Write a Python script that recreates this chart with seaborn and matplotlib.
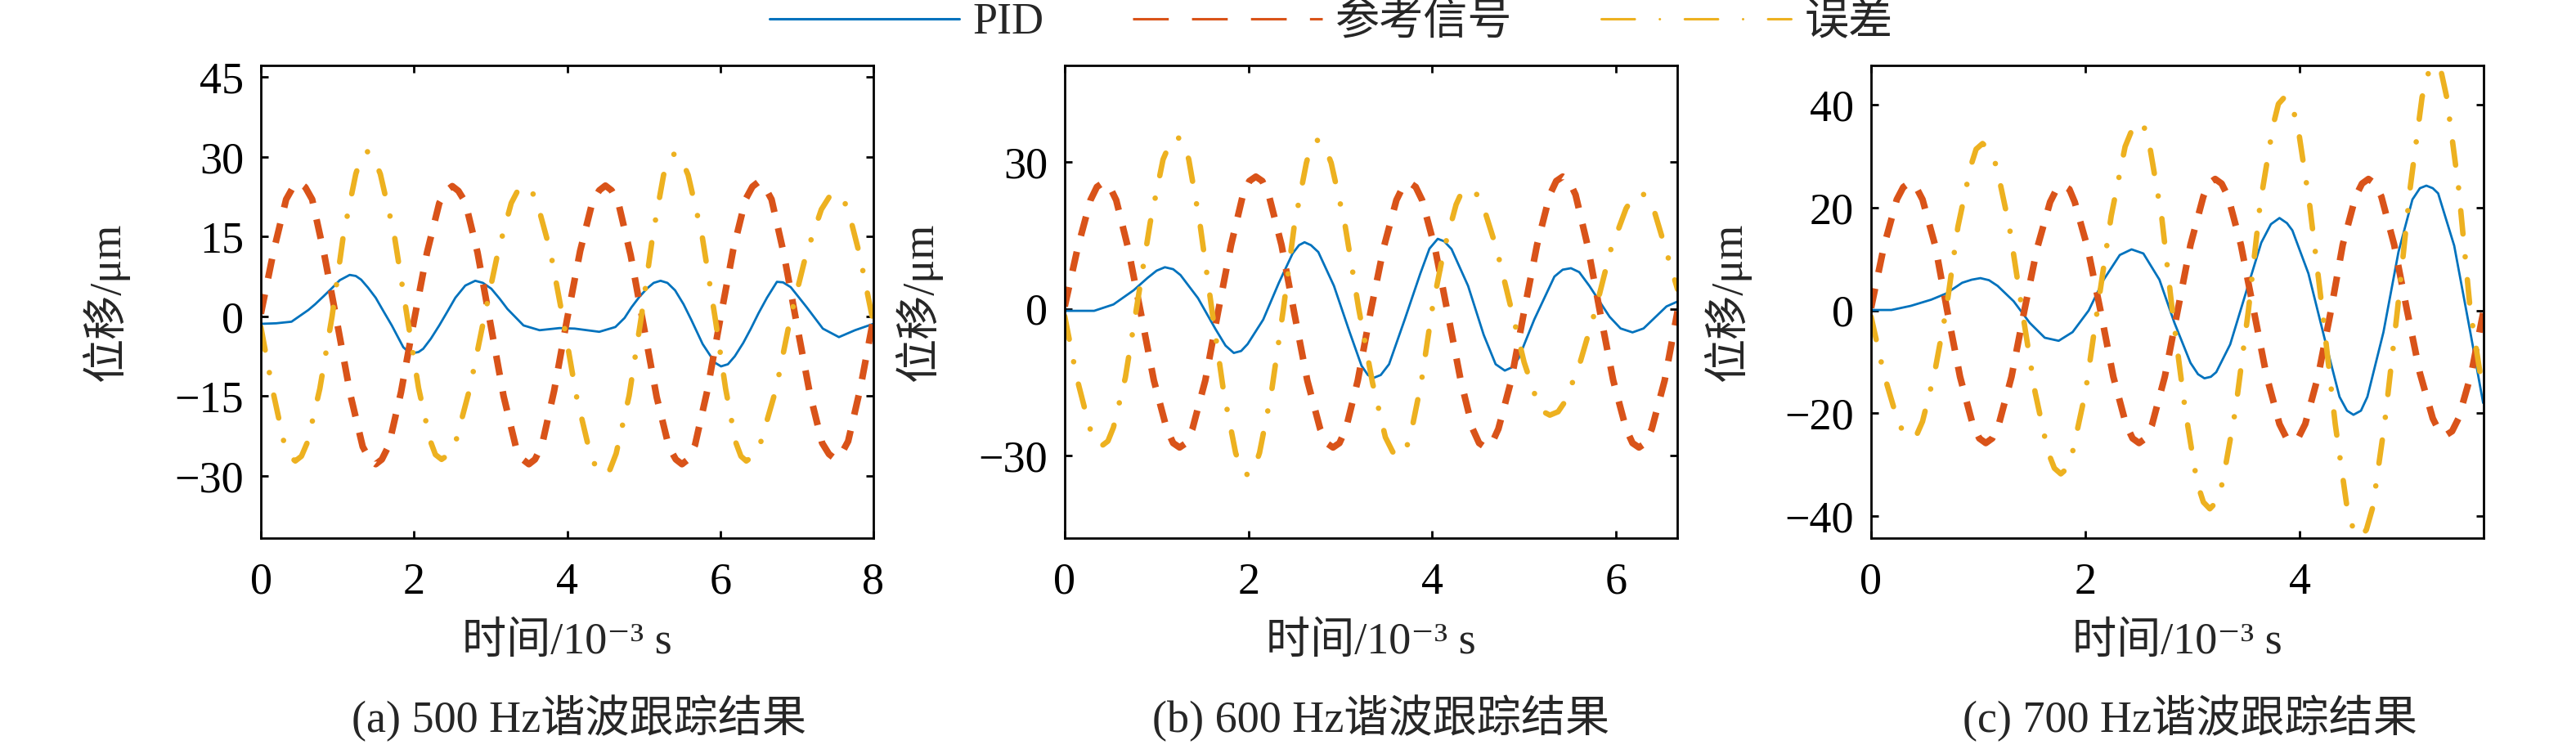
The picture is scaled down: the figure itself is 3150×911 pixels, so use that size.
#!/usr/bin/env python3
import pandas as pd
import seaborn as sns
import matplotlib.pyplot as plt
from matplotlib.lines import Line2D

# (time in 1e-3 s, displacement in um)
# --- (a) 500 Hz ---
A_PID = [(0, -1.4), (0.2, -1.3), (0.4, -1.0), (0.5, 0.0), (0.62, 1.2), (0.71, 2.3), (0.82, 3.8),
         (0.92, 5.2), (1.03, 6.8), (1.16, 7.8), (1.24, 7.6), (1.31, 6.9), (1.4, 5.4), (1.5, 3.5),
         (1.6, 1.0), (1.71, -1.7), (1.86, -5.8), (1.93, -6.7), (1.99, -6.9), (2.06, -6.7), (2.12, -6.1),
         (2.22, -4.2), (2.33, -1.7), (2.44, 1.0), (2.54, 3.5), (2.67, 5.8), (2.8, 6.7), (2.9, 6.3),
         (3.01, 5.2), (3.12, 3.3), (3.22, 1.4), (3.43, -1.7), (3.64, -2.6), (3.9, -2.2), (4.1, -2.3),
         (4.42, -2.9), (4.63, -2.0), (4.75, -0.3), (4.84, 1.7), (4.94, 3.6), (5.04, 5.2), (5.13, 6.3),
         (5.22, 6.7), (5.31, 6.3), (5.41, 4.9), (5.52, 2.3), (5.62, -0.6), (5.77, -5.2), (5.93, -8.7),
         (6.01, -9.4), (6.1, -9.0), (6.19, -7.5), (6.3, -5.0), (6.4, -2.3), (6.5, 0.6), (6.61, 3.5),
         (6.74, 6.5), (6.82, 6.4), (6.92, 5.5), (7.02, 3.7), (7.13, 1.7), (7.34, -2.3), (7.55, -3.9),
         (7.76, -2.6), (8.0, -1.4)]
A_REF = [(0, 0.5), (0.17, 12.5), (0.33, 22.0), (0.42, 24.3), (0.5, 25.2), (0.58, 24.3), (0.67, 22.0),
         (0.83, 11.5), (1.0, -1.5), (1.17, -14.8), (1.33, -24.5), (1.42, -26.9), (1.5, -27.8),
         (1.58, -26.9), (1.67, -24.3), (1.83, -14.3), (2.0, -0.8), (2.17, 12.0), (2.33, 21.3),
         (2.42, 23.6), (2.5, 24.5), (2.58, 23.6), (2.67, 21.5), (2.83, 12.0), (3.0, -1.5),
         (3.17, -15.0), (3.33, -24.5), (3.42, -26.9), (3.5, -27.8), (3.58, -26.9), (3.67, -24.3),
         (3.83, -14.0), (4.0, -0.5), (4.17, 12.3), (4.33, 21.5), (4.42, 23.7), (4.5, 24.6),
         (4.58, 23.7), (4.67, 21.3), (4.83, 11.5), (5.0, -1.8), (5.17, -15.2), (5.33, -24.6),
         (5.42, -26.9), (5.5, -27.8), (5.58, -26.9), (5.67, -24.2), (5.83, -14.0), (6.0, -0.5),
         (6.17, 12.6), (6.33, 22.0), (6.42, 24.4), (6.5, 25.3), (6.58, 24.4), (6.67, 22.0),
         (6.83, 11.8), (7.0, -1.5), (7.17, -14.5), (7.33, -23.8), (7.42, -25.9), (7.5, -26.8),
         (7.58, -25.9), (7.67, -23.5), (7.83, -13.5), (8.0, -0.5)]
A_ERR = [(0, -2.0), (0.15, -13.6), (0.30, -23.6), (0.37, -26.3), (0.45, -27.2), (0.53, -26.3),
         (0.61, -23.6), (0.77, -13.6), (0.93, 0), (1.08, 15.5), (1.24, 26.8), (1.31, 29.9),
         (1.39, 31.0), (1.47, 29.9), (1.56, 26.8), (1.74, 15.5), (1.91, 0), (2.06, -13.5),
         (2.21, -23.3), (2.28, -26.0), (2.36, -26.9), (2.45, -26.0), (2.55, -23.3), (2.73, -13.5),
         (2.92, 0), (3.10, 12.3), (3.27, 21.3), (3.36, 23.8), (3.45, 24.6), (3.53, 23.8),
         (3.61, 21.3), (3.78, 12.3), (3.94, 0), (4.12, -14.9), (4.30, -25.8), (4.39, -28.8),
         (4.48, -29.8), (4.56, -28.8), (4.64, -25.8), (4.81, -14.9), (4.97, 0), (5.12, 15.4),
         (5.26, 26.6), (5.34, 29.7), (5.41, 30.7), (5.49, 29.7), (5.58, 26.6), (5.76, 15.4),
         (5.93, 0), (6.07, -13.6), (6.20, -23.6), (6.27, -26.3), (6.34, -27.2), (6.43, -26.3),
         (6.53, -23.6), (6.73, -13.6), (6.92, 0), (7.12, 11.6), (7.32, 20.1), (7.42, 22.4),
         (7.52, 23.2), (7.59, 22.4), (7.67, 20.1), (7.82, 11.6), (8.0, -1.2)]

# --- (b) 600 Hz ---
B_PID = [(0, -0.4), (0.32, -0.4), (0.53, 0.9), (0.75, 3.8), (0.9, 6.3), (1.0, 7.8), (1.09, 8.5),
         (1.18, 8.1), (1.26, 6.9), (1.45, 2.2), (1.64, -4.1), (1.75, -7.5), (1.84, -9.0), (1.92, -8.6),
         (1.99, -7.2), (2.16, -2.2), (2.33, 5.3), (2.48, 11.3), (2.55, 13.0), (2.61, 13.6), (2.68, 13.0),
         (2.76, 11.6), (2.93, 4.7), (3.10, -4.7), (3.23, -11.6), (3.30, -13.5), (3.36, -14.1),
         (3.44, -13.5), (3.53, -11.3), (3.70, -2.2), (3.87, 7.2), (3.97, 12.3), (4.06, 14.3),
         (4.13, 13.8), (4.21, 12.2), (4.39, 4.7), (4.56, -5.3), (4.69, -11.3), (4.79, -12.6),
         (4.86, -12.0), (4.94, -10.1), (5.11, -2.2), (5.33, 6.6), (5.42, 8.0), (5.51, 8.3), (5.60, 7.5),
         (5.71, 4.7), (5.93, -1.6), (6.05, -4.0), (6.18, -4.8), (6.30, -4.0), (6.40, -2.2), (6.55, 0.5),
         (6.67, 1.5)]
B_REF = [(0, 0.5), (0.14, 12.4), (0.28, 22.2), (0.35, 24.9), (0.42, 25.8), (0.49, 24.9), (0.56, 22.2),
         (0.69, 12.4), (0.83, -1.0), (0.97, -14.6), (1.11, -24.5), (1.18, -27.4), (1.25, -28.3),
         (1.32, -27.4), (1.39, -24.5), (1.53, -14.6), (1.67, -0.5), (1.81, 13.0), (1.94, 23.3),
         (2.01, 26.1), (2.08, 27.0), (2.15, 26.1), (2.22, 23.3), (2.36, 13.0), (2.5, -1.0),
         (2.64, -14.6), (2.78, -24.5), (2.85, -27.4), (2.92, -28.3), (2.99, -27.4), (3.06, -24.5),
         (3.19, -14.6), (3.33, -0.5), (3.47, 12.4), (3.61, 22.2), (3.68, 24.9), (3.75, 25.8),
         (3.82, 24.9), (3.89, 22.2), (4.03, 12.4), (4.17, -1.0), (4.31, -14.6), (4.44, -24.5),
         (4.51, -27.4), (4.58, -28.3), (4.65, -27.4), (4.72, -24.5), (4.86, -14.6), (5.0, -0.5),
         (5.14, 13.0), (5.28, 23.3), (5.35, 26.1), (5.42, 27.0), (5.49, 26.1), (5.56, 23.3),
         (5.69, 13.0), (5.83, -1.0), (5.97, -14.6), (6.11, -24.5), (6.18, -27.4), (6.25, -28.3),
         (6.32, -27.4), (6.39, -24.5), (6.53, -14.6), (6.67, -0.5)]
B_ERR = [(0, -1.5), (0.13, -14.0), (0.27, -24.2), (0.33, -27.0), (0.40, -28.0), (0.47, -27.0),
         (0.53, -24.2), (0.66, -14.0), (0.78, 0), (0.93, 17.6), (1.07, 30.5), (1.15, 34.0),
         (1.22, 35.2), (1.29, 34.0), (1.35, 30.5), (1.47, 17.6), (1.60, 0), (1.73, -17.0),
         (1.86, -29.4), (1.92, -32.7), (1.99, -33.9), (2.06, -32.7), (2.12, -29.4), (2.25, -17.0),
         (2.38, 0), (2.50, 17.2), (2.63, 29.8), (2.68, 33.2), (2.75, 34.4), (2.83, 33.2),
         (2.90, 29.8), (3.05, 17.2), (3.20, 0), (3.35, -15.1), (3.49, -26.2), (3.57, -29.2),
         (3.64, -30.2), (3.70, -29.2), (3.76, -26.2), (3.88, -15.1), (4.00, 0), (4.13, 12.3),
         (4.26, 21.3), (4.32, 23.8), (4.39, 24.6), (4.47, 23.8), (4.55, 21.3), (4.70, 12.3),
         (4.86, 0), (5.00, -10.9), (5.14, -18.8), (5.21, -21.0), (5.28, -21.7), (5.37, -21.0),
         (5.45, -18.8), (5.61, -10.9), (5.78, 0), (5.94, 11.9), (6.11, 20.5), (6.19, 22.9),
         (6.27, 23.7), (6.34, 22.9), (6.40, 21.0), (6.52, 13.5), (6.67, 4.0)]

# --- (c) 700 Hz ---
C_PID = [(0, 0.1), (0.19, 0.1), (0.37, 0.9), (0.56, 2.1), (0.70, 3.3), (0.85, 5.4), (0.94, 6.0),
         (1.02, 6.3), (1.10, 5.9), (1.18, 4.8), (1.33, 1.8), (1.48, -2.4), (1.62, -5.3), (1.75, -5.9),
         (1.88, -4.2), (2.03, 0.0), (2.17, 6.0), (2.32, 10.8), (2.43, 11.9), (2.54, 11.1), (2.69, 6.0),
         (2.83, -2.4), (2.98, -10.2), (3.05, -12.4), (3.11, -13.2), (3.17, -12.9), (3.22, -12.0),
         (3.35, -6.6), (3.49, 3.0), (3.64, 13.2), (3.73, 16.8), (3.81, 18.0), (3.88, 17.0),
         (3.93, 15.6), (4.08, 7.2), (4.23, -5.4), (4.37, -16.8), (4.44, -19.5), (4.50, -20.3),
         (4.57, -19.5), (4.63, -16.8), (4.78, -4.2), (4.92, 11.4), (5.05, 21.6), (5.12, 23.8),
         (5.18, 24.3), (5.24, 23.8), (5.29, 22.8), (5.44, 12.6), (5.59, -4.2), (5.71, -18.0)]
C_REF = [(0, 0.5), (0.12, 12.5), (0.24, 21.6), (0.30, 24.0), (0.36, 24.9), (0.42, 24.0), (0.48, 21.6),
         (0.6, 12.5), (0.71, 0), (0.83, -12.9), (0.95, -22.3), (1.01, -24.9), (1.07, -25.8),
         (1.13, -24.9), (1.19, -22.3), (1.31, -12.9), (1.43, 0), (1.55, 12.2), (1.67, 21.1),
         (1.73, 23.6), (1.79, 24.4), (1.85, 23.6), (1.9, 21.1), (2.02, 12.2), (2.14, 0),
         (2.26, -12.9), (2.38, -22.3), (2.44, -24.9), (2.5, -25.8), (2.56, -24.9), (2.62, -22.3),
         (2.74, -12.9), (2.86, 0), (2.98, 12.8), (3.1, 22.2), (3.15, 24.7), (3.21, 25.6),
         (3.27, 24.7), (3.33, 22.2), (3.45, 12.8), (3.57, 0), (3.69, -12.8), (3.81, -22.1),
         (3.87, -24.6), (3.93, -25.5), (3.99, -24.6), (4.05, -22.1), (4.17, -12.8), (4.29, 0),
         (4.4, 12.8), (4.52, 22.2), (4.58, 24.7), (4.64, 25.6), (4.70, 24.7), (4.76, 22.2),
         (4.88, 12.8), (5.0, 0), (5.12, -12.2), (5.24, -21.0), (5.30, -23.5), (5.36, -24.3),
         (5.42, -23.5), (5.48, -21.0), (5.6, -12.2), (5.71, -0.5)]
C_ERR = [(0, -1.2), (0.12, -12.4), (0.25, -21.6), (0.31, -24.0), (0.37, -24.9), (0.43, -24.0),
         (0.48, -21.6), (0.59, -12.4), (0.70, 0), (0.81, 16.3), (0.93, 28.1), (0.98, 31.4),
         (1.04, 32.5), (1.10, 31.4), (1.17, 28.1), (1.29, 16.3), (1.41, 0), (1.53, -15.9),
         (1.65, -27.5), (1.71, -30.7), (1.77, -31.8), (1.83, -30.7), (1.88, -27.5), (2.00, -15.9),
         (2.11, 0), (2.24, 18.4), (2.37, 31.9), (2.44, 35.5), (2.50, 36.8), (2.55, 35.5),
         (2.60, 31.9), (2.71, 18.4), (2.81, 0), (2.93, -19.3), (3.04, -33.4), (3.10, -37.3),
         (3.16, -38.6), (3.22, -37.3), (3.28, -33.4), (3.40, -19.3), (3.52, 0), (3.63, 20.8),
         (3.75, 36.0), (3.80, 40.2), (3.86, 41.6), (3.92, 40.2), (3.98, 36.0), (4.09, 20.8),
         (4.21, 0), (4.33, -22.1), (4.44, -38.3), (4.50, -42.7), (4.56, -44.2), (4.62, -42.7),
         (4.68, -38.3), (4.79, -22.1), (4.91, 0), (5.03, 24.0), (5.14, 41.5), (5.20, 46.3),
         (5.26, 47.9), (5.32, 46.3), (5.37, 41.5), (5.48, 24.0), (5.59, 0), (5.71, -16.0)]

LABELS = ['PID', '参考信号', '误差']
CAPTIONS = ['(a) 500 Hz谐波跟踪结果', '(b) 600 Hz谐波跟踪结果', '(c) 700 Hz谐波跟踪结果']
XLIMS = [(0, 8), (0, 6.667), (0, 5.714)]
YLIMS = [(-41.7, 47.2), (-46.8, 49.7), (-44.3, 47.7)]
XTICKS = [[0, 2, 4, 6, 8], [0, 2, 4, 6], [0, 2, 4]]
YTICKS = [[-30, -15, 0, 15, 30, 45], [-30, 0, 30], [-40, -20, 0, 20, 40]]

BLUE, RED, YELLOW = '#0072BD', '#D95319', '#EDB120'
FS = 39

sns.set_style('ticks')
plt.rcParams['font.family'] = ['Liberation Serif', 'Noto Sans CJK SC', 'DejaVu Serif']
plt.rcParams['axes.unicode_minus'] = True

fig = plt.figure(figsize=(31.5, 9.11), dpi=100)

lefts = [319 / 3150, 1302 / 3150, 2288 / 3150]
ylab_x = [-0.2155, -0.201, -0.196]
cap_x = [708 / 3150, 1689 / 3150, 2678 / 3150]
series = [(A_PID, A_REF, A_ERR), (B_PID, B_REF, B_ERR), (C_PID, C_REF, C_ERR)]

for i, (pid, ref, err) in enumerate(series):
    ax = fig.add_axes([lefts[i], 253 / 911, 749 / 3150, 578 / 911])
    d_pid = pd.DataFrame(pid, columns=['t', 'v'])
    d_ref = pd.DataFrame(ref, columns=['t', 'v'])
    d_err = pd.DataFrame(err, columns=['t', 'v'])

    sns.lineplot(data=d_pid, x='t', y='v', ax=ax, color=BLUE, linewidth=2.0,
                 estimator=None, errorbar=None)
    sns.lineplot(data=d_ref, x='t', y='v', ax=ax, color=RED, linewidth=5.8,
                 linestyle=(0, (3.0, 2.5)), estimator=None, errorbar=None)
    sns.lineplot(data=d_err, x='t', y='v', ax=ax, color=YELLOW, linewidth=4.8,
                 linestyle=(0, (4.3, 4.2, 0.01, 4.2)), dash_capstyle='round',
                 solid_joinstyle='round', estimator=None, errorbar=None)

    ax.set_xlim(*XLIMS[i])
    ax.set_ylim(*YLIMS[i])
    ax.set_xticks(XTICKS[i])
    ax.set_yticks(YTICKS[i])
    ax.tick_params(direction='in', length=6.5, width=2, top=True, right=True,
                   labelsize=FS, colors='black')
    ax.tick_params(axis='x', pad=21)
    ax.tick_params(axis='y', pad=15)
    for sp in ax.spines.values():
        sp.set_linewidth(2.0)
        sp.set_color('black')
        sp.set_visible(True)

    ax.set_xlabel('时间/10⁻³ s', fontsize=FS, va='baseline')
    ax.xaxis.set_label_coords(0.5, -0.244)
    ax.set_ylabel('位移/μm', fontsize=FS)
    ax.yaxis.set_label_coords(ylab_x[i], 0.5)

    fig.text(cap_x[i], 16 / 911, CAPTIONS[i], ha='center', va='baseline', fontsize=FS)

handles = [
    Line2D([], [], color=BLUE, lw=2.2),
    Line2D([], [], color=RED, lw=2.2, linestyle=(0, (14.3, 9.3))),
    Line2D([], [], color=YELLOW, lw=2.2, linestyle=(0, (13.3, 10, 0.01, 10)), dash_capstyle='round'),
]
fig.legend(handles, LABELS, loc='center', bbox_to_anchor=(0.5168, 0.969), ncol=3, frameon=False,
           fontsize=FS, handlelength=4.28, handletextpad=0.31, columnspacing=2.0,
           borderpad=0, borderaxespad=0)

plt.savefig('out.png', dpi=100)
